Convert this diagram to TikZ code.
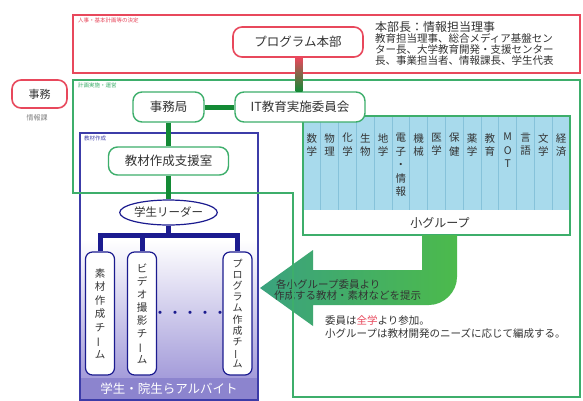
\documentclass[tikz,border=0pt]{standalone}
\usepackage{fontspec}
\setmainfont{Noto Sans CJK JP}
\usetikzlibrary{shapes.geometric,calc}
\definecolor{redc}{HTML}{E8485C}
\definecolor{greenc}{HTML}{3DAE6B}
\definecolor{darkgreen}{HTML}{138A35}
\definecolor{navy}{HTML}{1B1B8F}
\definecolor{bluebox}{HTML}{3C3CA8}
\definecolor{tablefill}{HTML}{A8DAEC}
\definecolor{tableline}{HTML}{86C2DA}
\definecolor{lavender}{HTML}{A49CDA}
\definecolor{bandc}{HTML}{8C84CE}
\definecolor{arrowg}{HTML}{4CBA4C}
\definecolor{arrowt}{HTML}{3AA27E}
\definecolor{textc}{HTML}{333333}
\newcommand{\vchoon}{\rotatebox[origin=c]{90}{ー}}
\begin{document}
\begin{tikzpicture}[x=1pt,y=-1pt,
 redbox/.style={draw=redc, line width=1.6pt, rounded corners=9pt, fill=white, inner sep=0pt, font=\fontsize{12.5}{14}\selectfont, text=textc},
 greenbox/.style={draw=greenc, line width=1.4pt, rounded corners=9pt, fill=white, inner sep=0pt, font=\fontsize{12.5}{14}\selectfont, text=textc},
 teambox/.style={draw=navy, line width=1.2pt, rounded corners=7pt, fill=white, minimum width=29pt, minimum height=123pt, inner sep=0pt, align=center, text=textc},
 gconn/.style={darkgreen, line width=5pt},
 tconn/.style={navy, line width=5pt, line join=miter},
 coltext/.style={anchor=north, align=center, font=\fontsize{10.5}{13.5}\selectfont, inner sep=0pt, text=textc},
 smalllabel/.style={anchor=north west, font=\fontsize{5.5}{6}\selectfont, inner sep=0pt},
 frame/.style={line width=1.4pt},
]
\useasboundingbox (0,0) rectangle (583,400);
\fill[white] (0,0) rectangle (583,400);

% top red frame
\draw[frame, redc] (73,15) rectangle (580,73);
\node[smalllabel, text=redc] (redlbl) at (78,18) {人事・基本計画等の決定};

% blue box
\fill[white] (80,133) rectangle (258,240);
\shade[top color=white, bottom color=lavender] (80,240) rectangle (258,378);
\fill[bandc] (80,378) rectangle (258,400);
\draw[frame, bluebox] (80,133) rectangle (258,400);
\node[smalllabel, text=bluebox] (bluelbl) at (84,136) {教材作成};
\node[font=\fontsize{12.5}{14}\selectfont, text=white] (band) at (169,389) {学生・院生らアルバイト};

% table of small groups
\fill[tablefill] (303,116) rectangle (570,210);
\foreach \i in {1,...,14} \draw[tableline, line width=0.8pt] ({303+17.8*\i},116) -- ({303+17.8*\i},210);
\foreach \t [count=\i] in {{数\\学},{物\\理},{化\\学},{生\\物},{地\\学},{電\\子\\・\\情\\報},{機\\械},{医\\学},{保\\健},{薬\\学},{教\\育},{M\\O\\T},{言\\語},{文\\学},{経\\済}}
  \node[coltext] (col\i) at ({303+17.8*(\i-0.5)},133) {\t};
\draw[frame, greenc] (303,116) rectangle (570,235);
\node[font=\fontsize{12}{14}\selectfont, text=textc] (small) at (440,223) {小グループ};

% big green arrow
\shade[left color=arrowt, right color=arrowg]
  (422,235) -- (457,235) -- (457,277) .. controls (457,292) and (444,305) .. (429,305)
  -- (313,305) -- (313,326) -- (260,288) -- (313,250) -- (313,270) -- (422,270) -- cycle;
\node[anchor=west, inner sep=0pt, font=\fontsize{10.5}{11}\selectfont, text=textc] (arr1) at (276,284) {各小グループ委員より};
\node[anchor=west, inner sep=0pt, font=\fontsize{10.5}{11}\selectfont, text=textc] (arr2) at (274,296) {作成する教材・素材などを提示};
\node[anchor=west, inner sep=0pt, font=\fontsize{10.5}{11}\selectfont, text=textc] (note1) at (325,321) {委員は\textcolor{redc}{全学}より参加。};
\node[anchor=west, inner sep=0pt, font=\fontsize{10.5}{11}\selectfont, text=textc] (note2) at (325,333) {小グループは教材開発のニーズに応じて編成する。};

% green L frame
\draw[frame, greenc] (73,80) -- (580,80) -- (580,397) -- (293,397) -- (293,193) -- (73,193) -- cycle;
\node[smalllabel, text=greenc] (greenlbl) at (78,83) {計画実施・運営};

% nodes
\node[redbox, minimum width=130pt, minimum height=30pt] (prog) at (298,42) {プログラム本部};
\node[anchor=north west, align=left, inner sep=0pt, text=textc, font=\fontsize{10.5}{11}\selectfont] (desc) at (375,21)
  {{\fontsize{12}{13}\selectfont 本部長：情報担当理事}\\教育担当理事、総合メディア基盤セン\\ター長、大学教育開発・支援センター\\長、事業担当者、情報課長、学生代表};
\node[redbox, minimum width=55pt, minimum height=28pt, font=\fontsize{11}{12}\selectfont] (jimu) at (39.5,94) {事務};
\node[inner sep=0pt, font=\fontsize{7}{8}\selectfont, text=gray] (jimulbl) at (37,118) {情報課};

\node[greenbox, minimum width=130pt, minimum height=30pt] (it) at (300,107) {IT教育実施委員会};
\node[greenbox, minimum width=71pt, minimum height=30pt] (office) at (168.5,107) {事務局};
\node[greenbox, minimum width=120pt, minimum height=28pt] (kyozai) at (168.5,161) {教材作成支援室};
\node[ellipse, draw=navy, line width=1.2pt, fill=white, minimum width=95pt, minimum height=25pt, inner sep=0pt, font=\fontsize{11.5}{13}\selectfont, text=textc] (leader) at (168.5,212.5) {学生リーダー};

\node[teambox, font=\fontsize{10.5}{13.5}\selectfont] (team1) at (100,313.5) {素\\材\\作\\成\\チ\\\vchoon\\ム};
\node[teambox, font=\fontsize{10.5}{13}\selectfont] (team2) at (142,313.5) {ビ\\デ\\オ\\撮\\影\\チ\\\vchoon\\ム};
\node[teambox, font=\fontsize{10}{11.2}\selectfont] (team3) at (237.5,313.5) {プ\\ロ\\グ\\ラ\\ム\\作\\成\\チ\\\vchoon\\ム};
\node[font=\fontsize{15}{16}\selectfont, text=navy, inner sep=0pt] (dots) at (190,315) {・・・・・};

% connectors
\shade[top color=redc, bottom color=darkgreen] ($(prog.south)+(-2.5,0)$) rectangle ($(it.north)+(2.5,0)$);
\draw[gconn] (office) -- (it);
\draw[gconn] (office) -- (kyozai);
\draw[gconn] (kyozai) -- (leader);
\coordinate (tb) at (168.5,235);
\draw[tconn] (leader.south) -- (tb);
\draw[tconn] (team1.north) -- (team1.north |- tb) -- (team3.north |- tb) -- (team3.north);
\draw[tconn] (team2.north) -- (team2.north |- tb);
\end{tikzpicture}
\end{document}
